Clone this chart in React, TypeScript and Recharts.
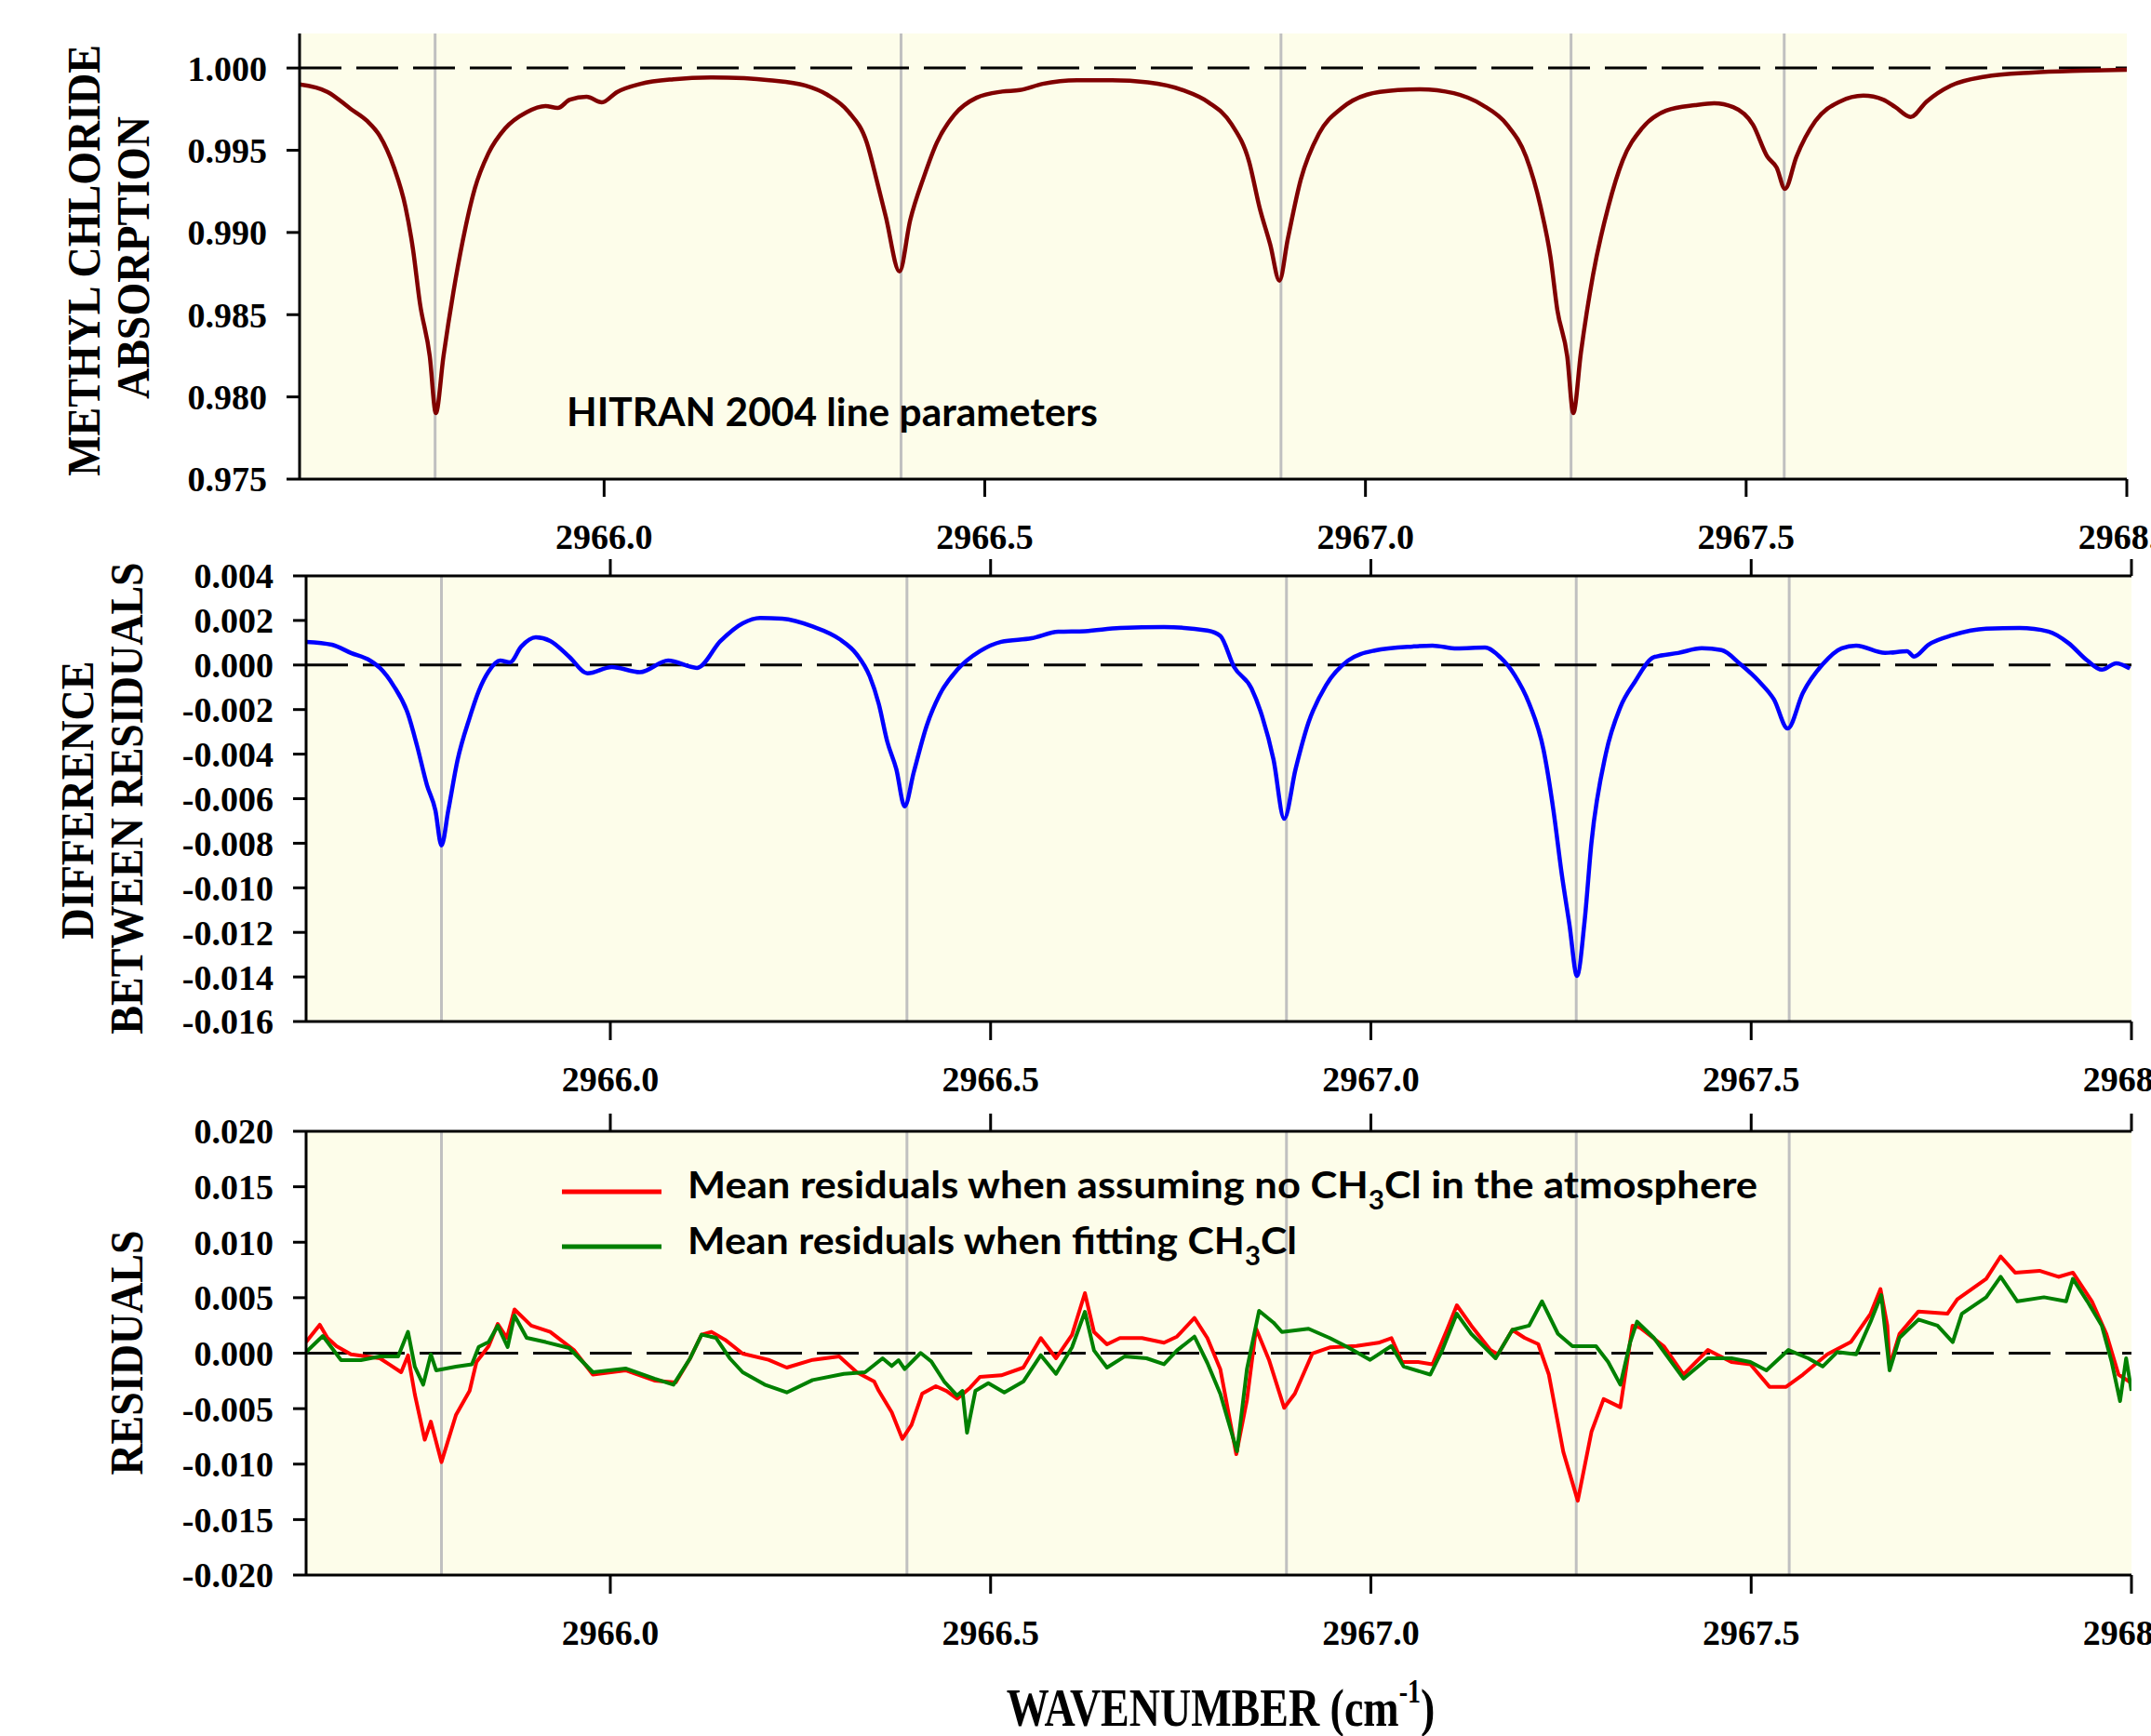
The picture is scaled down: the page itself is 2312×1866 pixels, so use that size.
import React from 'react';
import { LineChart, Line, XAxis, YAxis, CartesianGrid, ReferenceLine } from 'recharts';

const SERIF = '"Liberation Serif", "Times New Roman", Times, serif';
const SANS = 'Lato, "Open Sans", "Noto Sans", sans-serif';
const BG = '#FDFDEA';

// ---- shared axis values ----
const wnDomain: [number, number] = [2965.6, 2968.0];
const wnTicks = [2966.0, 2966.5, 2967.0, 2967.5, 2968.0];
const lineCenters = [2965.778, 2966.39, 2966.889, 2967.27, 2967.55];

const absTicks = [0.975, 0.98, 0.985, 0.99, 0.995, 1.0];
const diffTicks = [-0.016, -0.014, -0.012, -0.01, -0.008, -0.006, -0.004, -0.002, 0, 0.002, 0.004];
const resTicks = [-0.02, -0.015, -0.01, -0.005, 0, 0.005, 0.01, 0.015, 0.02];

// ---- panel 1: methyl chloride absorption (HITRAN 2004) ----
const absorption: [number, number][] = [
  [2965.600, 0.99900], [2965.637, 0.99854], [2965.667, 0.99752], [2965.689, 0.99677], [2965.705, 0.99590],
  [2965.724, 0.99395], [2965.739, 0.99157], [2965.749, 0.98897], [2965.758, 0.98572], [2965.771, 0.98247],
  [2965.779, 0.97902], [2965.789, 0.98247], [2965.802, 0.98637], [2965.814, 0.98942], [2965.830, 0.99265],
  [2965.848, 0.99481], [2965.870, 0.99633], [2965.898, 0.99731], [2965.923, 0.99769], [2965.939, 0.99757],
  [2965.955, 0.99807], [2965.977, 0.99825], [2965.997, 0.99791], [2966.017, 0.99854], [2966.048, 0.99904],
  [2966.091, 0.99932], [2966.142, 0.99943], [2966.184, 0.99938], [2966.217, 0.99926], [2966.264, 0.99894],
  [2966.293, 0.99838], [2966.321, 0.99734], [2966.345, 0.99547], [2966.359, 0.99300], [2966.370, 0.99095],
  [2966.388, 0.98763], [2966.402, 0.99074], [2966.420, 0.99338], [2966.437, 0.99546], [2966.460, 0.99716],
  [2966.489, 0.99819], [2966.523, 0.99857], [2966.546, 0.99866], [2966.576, 0.99904], [2966.621, 0.99926],
  [2966.667, 0.99926], [2966.714, 0.99913], [2966.760, 0.99866], [2966.794, 0.99791], [2966.824, 0.99659],
  [2966.847, 0.99433], [2966.861, 0.99150], [2966.875, 0.98925], [2966.887, 0.98707], [2966.898, 0.98961],
  [2966.915, 0.99321], [2966.939, 0.99602], [2966.968, 0.99753], [2967.002, 0.99838], [2967.043, 0.99866],
  [2967.072, 0.99871], [2967.116, 0.99847], [2967.154, 0.99774], [2967.186, 0.99655], [2967.211, 0.99460],
  [2967.230, 0.99157], [2967.243, 0.98852], [2967.252, 0.98529], [2967.265, 0.98247], [2967.273, 0.97902],
  [2967.283, 0.98270], [2967.299, 0.98744], [2967.319, 0.99157], [2967.338, 0.99440], [2967.363, 0.99632],
  [2967.395, 0.99741], [2967.433, 0.99774], [2967.458, 0.99785], [2967.483, 0.99762], [2967.509, 0.99655],
  [2967.528, 0.99460], [2967.540, 0.99395], [2967.551, 0.99265], [2967.566, 0.99460], [2967.591, 0.99678],
  [2967.623, 0.99796], [2967.654, 0.99832], [2967.680, 0.99808], [2967.696, 0.99762], [2967.716, 0.99702],
  [2967.737, 0.99796], [2967.769, 0.99893], [2967.813, 0.99947], [2967.876, 0.99973], [2967.939, 0.99984],
  [2968.000, 0.99990],
];

// ---- panel 2: difference between residuals ----
const difference: [number, number][] = [
  [2965.600, 0.00104], [2965.634, 0.00091], [2965.659, 0.00054], [2965.684, 0.00020], [2965.697, -0.00013],
  [2965.715, -0.00093], [2965.734, -0.00220], [2965.746, -0.00364], [2965.759, -0.00540], [2965.770, -0.00652],
  [2965.778, -0.00810], [2965.787, -0.00652], [2965.799, -0.00429], [2965.815, -0.00237], [2965.827, -0.00117],
  [2965.840, -0.00029], [2965.855, 0.00020], [2965.868, 0.00012], [2965.883, 0.00083], [2965.902, 0.00124],
  [2965.921, 0.00108], [2965.946, 0.00037], [2965.970, -0.00037], [2966.002, -0.00009], [2966.039, -0.00032],
  [2966.076, 0.00020], [2966.114, -0.00013], [2966.145, 0.00108], [2966.174, 0.00187], [2966.197, 0.00211],
  [2966.226, 0.00208], [2966.266, 0.00173], [2966.301, 0.00117], [2966.324, 0.00048], [2966.341, -0.00050],
  [2966.353, -0.00175], [2966.364, -0.00342], [2966.376, -0.00467], [2966.387, -0.00634], [2966.399, -0.00481],
  [2966.416, -0.00272], [2966.433, -0.00133], [2966.456, -0.00022], [2966.486, 0.00062], [2966.514, 0.00104],
  [2966.554, 0.00120], [2966.589, 0.00149], [2966.624, 0.00152], [2966.670, 0.00166], [2966.728, 0.00170],
  [2966.785, 0.00155], [2966.802, 0.00131], [2966.820, -0.00008], [2966.843, -0.00105], [2966.857, -0.00230],
  [2966.872, -0.00425], [2966.886, -0.00690], [2966.901, -0.00467], [2966.918, -0.00258], [2966.941, -0.00091],
  [2966.970, 0.00020], [2967.005, 0.00065], [2967.055, 0.00083], [2967.081, 0.00087], [2967.113, 0.00074],
  [2967.150, 0.00078], [2967.170, 0.00035], [2967.189, -0.00045], [2967.208, -0.00172], [2967.227, -0.00381],
  [2967.240, -0.00652], [2967.251, -0.00940], [2967.261, -0.01164], [2967.271, -0.01395], [2967.281, -0.01149],
  [2967.290, -0.00797], [2967.309, -0.00397], [2967.328, -0.00189], [2967.347, -0.00076], [2967.372, 0.00035],
  [2967.404, 0.00054], [2967.435, 0.00075], [2967.461, 0.00067], [2967.486, 0.00003], [2967.511, -0.00076],
  [2967.530, -0.00155], [2967.548, -0.00285], [2967.568, -0.00125], [2967.594, 0.00003], [2967.619, 0.00075],
  [2967.638, 0.00087], [2967.676, 0.00054], [2967.705, 0.00062], [2967.714, 0.00038], [2967.733, 0.00091],
  [2967.765, 0.00134], [2967.809, 0.00163], [2967.853, 0.00166], [2967.891, 0.00150], [2967.917, 0.00099],
  [2967.942, 0.00020], [2967.961, -0.00021], [2967.980, 0.00008], [2967.998, -0.00016],
];

// ---- panel 3: mean residuals, no CH3Cl in atmosphere (red) ----
const residNoCH3Cl: [number, number][] = [
  [2965.600, 0.00100], [2965.618, 0.00256], [2965.628, 0.00138], [2965.640, 0.00063], [2965.659, -0.00010],
  [2965.697, -0.00046], [2965.709, -0.00100], [2965.725, -0.00172], [2965.734, -0.00020], [2965.743, -0.00373],
  [2965.756, -0.00780], [2965.764, -0.00617], [2965.778, -0.00982], [2965.797, -0.00558], [2965.815, -0.00340],
  [2965.824, -0.00080], [2965.840, 0.00063], [2965.852, 0.00264], [2965.864, 0.00138], [2965.874, 0.00394],
  [2965.896, 0.00248], [2965.921, 0.00192], [2965.952, 0.00029], [2965.977, -0.00193], [2966.020, -0.00155],
  [2966.058, -0.00247], [2966.086, -0.00264], [2966.105, -0.00046], [2966.120, 0.00167], [2966.133, 0.00192],
  [2966.151, 0.00120], [2966.174, -0.00004], [2966.208, -0.00060], [2966.232, -0.00130], [2966.266, -0.00060],
  [2966.301, -0.00030], [2966.324, -0.00172], [2966.347, -0.00256], [2966.353, -0.00340], [2966.370, -0.00533],
  [2966.384, -0.00773], [2966.396, -0.00647], [2966.410, -0.00365], [2966.428, -0.00298], [2966.442, -0.00340],
  [2966.456, -0.00410], [2966.473, -0.00312], [2966.486, -0.00214], [2966.514, -0.00200], [2966.543, -0.00130],
  [2966.566, 0.00136], [2966.586, -0.00046], [2966.607, 0.00164], [2966.624, 0.00541], [2966.636, 0.00191],
  [2966.653, 0.00080], [2966.670, 0.00136], [2966.699, 0.00136], [2966.728, 0.00094], [2966.745, 0.00149],
  [2966.768, 0.00317], [2966.785, 0.00136], [2966.802, -0.00144], [2966.823, -0.00910], [2966.837, -0.00424],
  [2966.849, 0.00222], [2966.866, -0.00060], [2966.886, -0.00493], [2966.900, -0.00365], [2966.923, -0.00004],
  [2966.946, 0.00052], [2966.981, 0.00065], [2967.010, 0.00094], [2967.027, 0.00136], [2967.041, -0.00080],
  [2967.062, -0.00080], [2967.081, -0.00100], [2967.100, 0.00210], [2967.113, 0.00432], [2967.132, 0.00248],
  [2967.157, 0.00029], [2967.167, -0.00010], [2967.186, 0.00210], [2967.202, 0.00138], [2967.220, 0.00082],
  [2967.234, -0.00193], [2967.253, -0.00890], [2967.272, -0.01330], [2967.290, -0.00709], [2967.306, -0.00414],
  [2967.328, -0.00487], [2967.344, 0.00248], [2967.354, 0.00230], [2967.385, 0.00063], [2967.411, -0.00193],
  [2967.443, 0.00029], [2967.474, -0.00080], [2967.499, -0.00100], [2967.524, -0.00303], [2967.546, -0.00303],
  [2967.568, -0.00193], [2967.600, -0.00010], [2967.631, 0.00100], [2967.657, 0.00356], [2967.670, 0.00578],
  [2967.679, 0.00248], [2967.682, -0.00120], [2967.695, 0.00174], [2967.720, 0.00376], [2967.758, 0.00356],
  [2967.771, 0.00486], [2967.809, 0.00670], [2967.828, 0.00872], [2967.847, 0.00726], [2967.879, 0.00743],
  [2967.904, 0.00688], [2967.923, 0.00726], [2967.948, 0.00467], [2967.967, 0.00174], [2967.983, -0.00193],
  [2967.998, -0.00260],
];

// ---- panel 3: mean residuals when fitting CH3Cl (green) ----
const residFitCH3Cl: [number, number][] = [
  [2965.600, 0.00010], [2965.622, 0.00155], [2965.634, 0.00046], [2965.646, -0.00063], [2965.672, -0.00063],
  [2965.697, -0.00030], [2965.721, -0.00030], [2965.734, 0.00192], [2965.743, -0.00122], [2965.754, -0.00284],
  [2965.764, -0.00010], [2965.771, -0.00155], [2965.797, -0.00122], [2965.818, -0.00100], [2965.827, 0.00056],
  [2965.840, 0.00100], [2965.852, 0.00247], [2965.865, 0.00056], [2965.874, 0.00340], [2965.890, 0.00138],
  [2965.915, 0.00100], [2965.946, 0.00046], [2965.977, -0.00172], [2966.020, -0.00138], [2966.058, -0.00230],
  [2966.083, -0.00284], [2966.105, -0.00046], [2966.120, 0.00167], [2966.139, 0.00138], [2966.157, -0.00046],
  [2966.174, -0.00172], [2966.203, -0.00284], [2966.232, -0.00354], [2966.266, -0.00242], [2966.307, -0.00186],
  [2966.335, -0.00172], [2966.358, -0.00046], [2966.370, -0.00116], [2966.379, -0.00063], [2966.387, -0.00144],
  [2966.408, 0.00002], [2966.422, -0.00074], [2966.439, -0.00256], [2966.456, -0.00382], [2966.463, -0.00340],
  [2966.469, -0.00717], [2966.480, -0.00340], [2966.497, -0.00270], [2966.518, -0.00354], [2966.543, -0.00256],
  [2966.566, -0.00018], [2966.586, -0.00186], [2966.607, 0.00052], [2966.624, 0.00373], [2966.636, 0.00024],
  [2966.653, -0.00130], [2966.676, -0.00030], [2966.705, -0.00046], [2966.728, -0.00100], [2966.745, 0.00024],
  [2966.768, 0.00149], [2966.785, -0.00088], [2966.802, -0.00367], [2966.824, -0.00885], [2966.837, -0.00144],
  [2966.853, 0.00382], [2966.872, 0.00275], [2966.883, 0.00191], [2966.918, 0.00220], [2966.946, 0.00136],
  [2966.970, 0.00052], [2966.999, -0.00060], [2967.027, 0.00065], [2967.043, -0.00120], [2967.078, -0.00193],
  [2967.094, 0.00029], [2967.113, 0.00356], [2967.132, 0.00174], [2967.164, -0.00046], [2967.186, 0.00210],
  [2967.208, 0.00248], [2967.225, 0.00467], [2967.246, 0.00174], [2967.265, 0.00063], [2967.296, 0.00063],
  [2967.312, -0.00080], [2967.328, -0.00284], [2967.341, 0.00100], [2967.350, 0.00284], [2967.372, 0.00138],
  [2967.411, -0.00230], [2967.443, -0.00046], [2967.474, -0.00046], [2967.499, -0.00080], [2967.520, -0.00155],
  [2967.549, 0.00029], [2967.575, -0.00046], [2967.594, -0.00120], [2967.613, 0.00010], [2967.638, -0.00010],
  [2967.657, 0.00284], [2967.671, 0.00524], [2967.682, -0.00155], [2967.695, 0.00138], [2967.720, 0.00303],
  [2967.745, 0.00248], [2967.765, 0.00100], [2967.777, 0.00356], [2967.809, 0.00504], [2967.828, 0.00688],
  [2967.850, 0.00467], [2967.885, 0.00504], [2967.914, 0.00467], [2967.923, 0.00670], [2967.942, 0.00467],
  [2967.961, 0.00248], [2967.974, -0.00080], [2967.985, -0.00432], [2967.993, -0.00046], [2968.000, -0.00340],
];

const toRows = (arr: [number, number][]) => arr.map(([x, y]) => ({ x, y }));

const axisStroke = { stroke: '#000', strokeWidth: 3 };
const tickFont = { fill: '#000', fontSize: 38, fontWeight: 700, fontFamily: SERIF };

type SeriesDef = {
  name: string;
  data: [number, number][];
  color: string;
  width: number;
  curve: 'linear' | 'monotoneX';
};

type PanelProps = {
  top: number;
  margin: { top: number; right: number; bottom: number; left: number };
  yDomain: [number, number];
  yTicks: number[];
  yRef: number;
  topTickSize: number;
  topAxisHeight: number;
  bottomTickSize: number;
  bottomTickMargin: number;
  series: SeriesDef[];
};

function SpectrumPanel(p: PanelProps) {
  return (
    <div style={{ position: 'absolute', left: 0, top: p.top, width: 2312, height: 620 }}>
      <LineChart width={2312} height={620} margin={p.margin}>
        <CartesianGrid xAxisId="b" yAxisId="l" fill={BG} fillOpacity={1} stroke="none" horizontal={false} vertical={false} />
        <XAxis
          xAxisId="b"
          type="number"
          dataKey="x"
          domain={wnDomain}
          ticks={wnTicks}
          interval={0}
          allowDataOverflow
          tickFormatter={(v: number) => v.toFixed(1)}
          tick={tickFont}
          tickLine={axisStroke}
          axisLine={axisStroke}
          tickSize={p.bottomTickSize}
          tickMargin={p.bottomTickMargin}
          height={60}
        />
        <XAxis
          xAxisId="t"
          orientation="top"
          type="number"
          dataKey="x"
          domain={wnDomain}
          ticks={wnTicks}
          interval={0}
          allowDataOverflow
          tickFormatter={() => ''}
          tick={p.topTickSize > 0 ? tickFont : false}
          tickLine={p.topTickSize > 0 ? axisStroke : false}
          axisLine={axisStroke}
          tickSize={p.topTickSize}
          height={p.topAxisHeight}
        />
        <YAxis
          yAxisId="l"
          type="number"
          domain={p.yDomain}
          ticks={p.yTicks}
          interval={0}
          allowDataOverflow
          tickFormatter={(v: number) => v.toFixed(3)}
          tick={tickFont}
          tickLine={axisStroke}
          axisLine={axisStroke}
          tickSize={14}
          tickMargin={21}
          width={100}
        />
        <YAxis
          yAxisId="r"
          orientation="right"
          type="number"
          domain={p.yDomain}
          allowDataOverflow
          tick={false}
          tickLine={false}
          axisLine={axisStroke}
          width={0}
        />
        {lineCenters.map((c) => (
          <ReferenceLine key={c} xAxisId="b" yAxisId="l" x={c} stroke="#C0C0C0" strokeWidth={3} />
        ))}
        <ReferenceLine xAxisId="b" yAxisId="l" y={p.yRef} stroke="#000" strokeWidth={3} strokeDasharray="45 16" />
        {p.series.map((s) => (
          <Line
            key={s.name}
            name={s.name}
            xAxisId="b"
            yAxisId="l"
            data={toRows(s.data)}
            dataKey="y"
            type={s.curve}
            dot={false}
            activeDot={false}
            stroke={s.color}
            strokeWidth={s.width}
            strokeLinejoin="round"
            isAnimationActive={false}
          />
        ))}
      </LineChart>
    </div>
  );
}

export default function App() {
  return (
    <div style={{ position: 'relative', width: 2312, height: 1866, overflow: 'hidden', background: '#fff' }}>
      <style>{`html,body{margin:0;padding:0;overflow:hidden;background:#fff;}`}</style>
      <SpectrumPanel
        top={0}
        margin={{ top: 36, right: 26, bottom: 45, left: 222 }}
        yDomain={[0.975, 1.0021]}
        yTicks={absTicks}
        yRef={1.0}
        topTickSize={0}
        topAxisHeight={0}
        bottomTickSize={19}
        bottomTickMargin={29}
        series={[{ name: 'HITRAN 2004 absorption', data: absorption, color: '#800000', width: 4.5, curve: 'monotoneX' }]}
      />
      <SpectrumPanel
        top={580}
        margin={{ top: 19, right: 21, bottom: 42, left: 229 }}
        yDomain={[-0.016, 0.004]}
        yTicks={diffTicks}
        yRef={0}
        topTickSize={18}
        topAxisHeight={20}
        bottomTickSize={20}
        bottomTickMargin={28}
        series={[{ name: 'Difference between residuals', data: difference, color: '#0000FF', width: 4.5, curve: 'monotoneX' }]}
      />
      <SpectrumPanel
        top={1176}
        margin={{ top: 20, right: 21, bottom: 43, left: 229 }}
        yDomain={[-0.02, 0.02]}
        yTicks={resTicks}
        yRef={0}
        topTickSize={19}
        topAxisHeight={20}
        bottomTickSize={20}
        bottomTickMargin={28}
        series={[
          { name: 'Mean residuals when assuming no CH3Cl in the atmosphere', data: residNoCH3Cl, color: '#FF0000', width: 4, curve: 'linear' },
          { name: 'Mean residuals when fitting CH3Cl', data: residFitCH3Cl, color: '#008000', width: 4, curve: 'linear' },
        ]}
      />
      <svg width={2312} height={1866} style={{ position: 'absolute', left: 0, top: 0, pointerEvents: 'none' }}>
        <g fontFamily={SERIF} fontWeight={700} fill="#000" fontSize={46}>
          <text transform="translate(107,280) rotate(-90) scale(1,1.08)" textAnchor="middle">METHYL CHLORIDE</text>
          <text transform="translate(160,277) rotate(-90) scale(1,1.08)" textAnchor="middle">ABSORPTION</text>
          <text transform="translate(100,860) rotate(-90) scale(1,1.08)" textAnchor="middle">DIFFERENCE</text>
          <text transform="translate(153,858) rotate(-90) scale(1,1.08)" textAnchor="middle">BETWEEN RESIDUALS</text>
          <text transform="translate(153,1454) rotate(-90) scale(1,1.08)" textAnchor="middle">RESIDUALS</text>
          <text transform="translate(1312,1855) scale(1,1.25)" textAnchor="middle">
            WAVENUMBER (cm<tspan fontSize={28} dy={-20}>-1</tspan><tspan dy={20}>)</tspan>
          </text>
        </g>
        <g fontFamily={SANS} fontWeight={700} fill="#000">
          <text x={609} y={458} fontSize={42} textLength={571} lengthAdjust="spacingAndGlyphs">
            HITRAN 2004 line parameters
          </text>
          <line x1={604} x2={711} y1={1281} y2={1281} stroke="#FF0000" strokeWidth={5} />
          <text x={739} y={1288} fontSize={41} textLength={1150} lengthAdjust="spacingAndGlyphs">
            Mean residuals when assuming no CH<tspan fontSize={28} dy={12}>3</tspan>
            <tspan dy={-12}>Cl in the atmosphere</tspan>
          </text>
          <line x1={604} x2={711} y1={1340} y2={1340} stroke="#008000" strokeWidth={5} />
          <text x={739} y={1348} fontSize={41} textLength={655} lengthAdjust="spacingAndGlyphs">
            Mean residuals when fitting CH<tspan fontSize={28} dy={12}>3</tspan>
            <tspan dy={-12}>Cl</tspan>
          </text>
        </g>
      </svg>
    </div>
  );
}
